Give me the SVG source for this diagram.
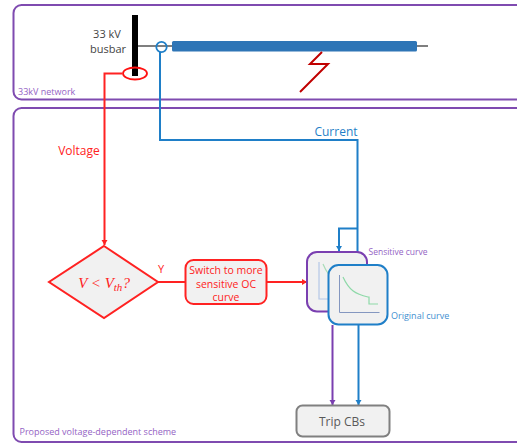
<svg xmlns="http://www.w3.org/2000/svg" width="517" height="444" viewBox="0 0 517 444">
<defs>
<marker id="ar" markerWidth="8" markerHeight="8" refX="5" refY="3" orient="auto" markerUnits="userSpaceOnUse"><path d="M0 0L5 3L0 6z" fill="#f22"/></marker>
<marker id="ab" markerWidth="8" markerHeight="8" refX="5" refY="3" orient="auto" markerUnits="userSpaceOnUse"><path d="M0 0L5 3L0 6z" fill="#1f7fc8"/></marker>
<marker id="ap" markerWidth="8" markerHeight="8" refX="5" refY="3" orient="auto" markerUnits="userSpaceOnUse"><path d="M0 0L5 3L0 6z" fill="#7a3fb0"/></marker>
</defs>
<style>
text{font-family:"Open Sans","Noto Sans",sans-serif}
.frame{fill:none;stroke:#7f4bb0;stroke-width:2}
.r{fill:none;stroke:#f22;stroke-width:2}
.b{fill:none;stroke:#1f7fc8;stroke-width:2}
.p{fill:none;stroke:#7a3fb0;stroke-width:2}
.box{fill:#f1f1f1}
.cap{fill:#9463c4;font-size:9px}
.lab{font-size:11px;fill:#444}
</style>
<g id="network"><rect class="frame" x="13.500" y="5" width="520" height="94.500" rx="8"/><text class="cap" x="18" y="95">33kV network</text></g>
<g id="scheme"><rect class="frame" x="13.500" y="108" width="520" height="334" rx="8"/><text class="cap" x="19.500" y="435">Proposed voltage-dependent scheme</text></g>
<g id="connectors">
<path d="M135 46H428" stroke="#555" stroke-width="1.500" fill="none"/>
<path class="r" d="M122 73.500H104.500V245" marker-end="url(#ar)"/>
<path class="b" d="M160 52V140H357.500V264" marker-end="url(#ab)"/>
<path class="b" d="M357.500 228.500H339V251" marker-end="url(#ab)"/>
<path class="r" d="M158 282H185"/>
<path class="r" d="M267 282H307" marker-end="url(#ar)"/>
<path class="p" d="M332.500 325V405" marker-end="url(#ap)"/>
<path class="b" d="M358.500 325V405" marker-end="url(#ab)"/>
</g>
<g id="busbar">
<rect x="132" y="15" width="6" height="61" fill="#000"/>
<text class="lab" x="107" y="38" text-anchor="middle">33 kV</text>
<text class="lab" x="108" y="53" text-anchor="middle">busbar</text>
<ellipse cx="135" cy="73.500" rx="12" ry="6" fill="none" stroke="#f11" stroke-width="1.800"/>
<circle cx="161.500" cy="47" r="5.200" fill="none" stroke="#1f7fc8" stroke-width="1.800"/>
</g>
<g id="line"><rect x="172" y="41" width="245" height="10.500" rx="1.500" fill="#2e75b6"/></g>
<g id="fault"><path d="M322 52L310 64H328L300 92" fill="none" stroke="#c00000" stroke-width="2"/></g>
<g id="voltage-label"><text x="79" y="154.500" font-size="12" fill="#f22" text-anchor="middle">Voltage</text></g>
<g id="current-label"><text x="336" y="135.500" font-size="12" fill="#1f7fc8" text-anchor="middle">Current</text></g>
<g id="decision">
<path class="box" d="M104 246L158 282L104 318L49 282z" stroke="#f22" stroke-width="2"/>
<text x="104" y="288" text-anchor="middle" font-size="15" fill="#f22" style="font-family:'Liberation Serif',serif;font-style:italic">V &lt; V<tspan font-size="11" dy="3">th</tspan><tspan dy="-3">?</tspan></text>
<text x="161" y="273" text-anchor="middle" font-size="11" fill="#f22">Y</text>
</g>
<g id="switch">
<rect class="box" x="185.500" y="260" width="81" height="44" rx="8" stroke="#f22" stroke-width="2"/>
<g font-size="10.500" fill="#f22" text-anchor="middle"><text x="226" y="274">Switch to more</text><text x="226" y="288">sensitive OC</text><text x="226" y="301">curve</text></g>
</g>
<g id="sensitive">
<rect class="box" x="307" y="252" width="60" height="59.500" rx="10" stroke="#7a3fb0" stroke-width="2"/>
<path d="M319 262V299H345" fill="none" stroke="#b4c7e7" stroke-width="1.200"/>
<path d="M323 264Q328 276 334 278" fill="none" stroke="#a9dcb8" stroke-width="1.200"/>
<text x="368.500" y="255" font-size="8.500" fill="#9463c4">Sensitive curve</text>
</g>
<g id="original">
<rect class="box" x="328.500" y="265" width="59" height="59.500" rx="10" stroke="#1f7fc8" stroke-width="2"/>
<path d="M339.500 275V312.500H379.500" fill="none" stroke="#8497c0" stroke-width="1"/>
<path d="M343 277C349 290 355 294 368 297H369V304H378" fill="none" stroke="#8ed9a8" stroke-width="1.200"/>
<text x="391" y="318.500" font-size="9" fill="#3f8fd0">Original curve</text>
</g>
<g id="trip">
<rect class="box" x="296.500" y="405.500" width="93" height="31" rx="6" stroke="#808080" stroke-width="2"/>
<text x="342" y="426" text-anchor="middle" font-size="12" fill="#595959">Trip CBs</text>
</g>
</svg>
